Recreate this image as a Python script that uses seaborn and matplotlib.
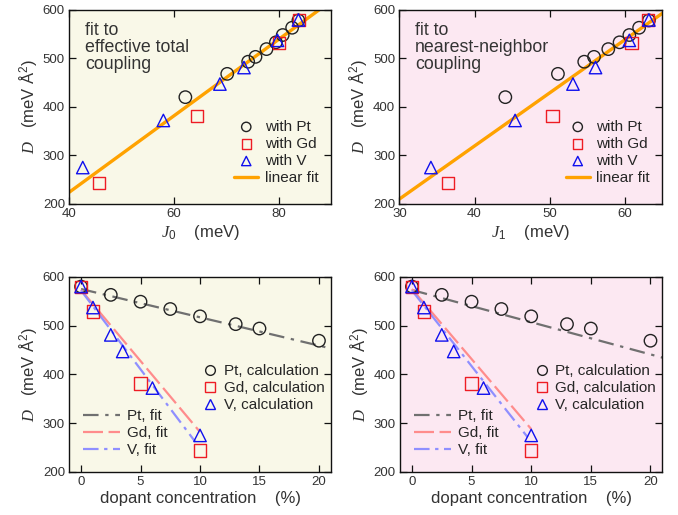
import matplotlib
matplotlib.use("Agg")
import numpy as np
import pandas as pd
import matplotlib.pyplot as plt
import seaborn as sns
from matplotlib.lines import Line2D

# ---- data ----
# top-left: D vs effective total coupling J0
j0_pt = [62.2, 70.2, 74.2, 75.6, 77.7, 79.5, 80.8, 82.6, 83.8]
d_pt = [420, 468, 493, 503, 519, 533, 548, 563, 578]
j0_gd = [45.7, 64.4, 80.1, 83.9]
d_gd = [243, 381, 531, 579]
j0_v = [42.6, 58.0, 68.8, 73.4, 79.8, 83.8]
d_v = [275, 372, 447, 481, 537, 579]
fit_j0 = (224.0, 7.87, 40.0)   # value at x0, slope, x0

# top-right: D vs nearest-neighbour coupling J1
j1_pt = [44.1, 51.1, 54.6, 55.9, 57.8, 59.3, 60.6, 61.9, 63.2]
j1_gd = [36.5, 50.4, 60.9, 63.1]
j1_v = [34.2, 45.4, 53.1, 56.1, 60.6, 63.2]
fit_j1 = (210.0, 10.94, 30.0)

# bottom: D vs dopant concentration
conc_pt = [0, 2.5, 5, 7.5, 10, 13, 15, 20]
dc_pt = [580, 563, 549, 534, 519, 503, 494, 469]
conc_gd = [0, 1, 5, 10]
dc_gd = [579, 529, 381, 244]
conc_v = [0, 1, 2.5, 3.5, 6, 10]
dc_v = [580, 537, 481, 447, 372, 275]

# fit lines: (intercept, slope, x_end)
fits_left = {"Pt": (575, -5.8, 22), "Gd": (573, -29.1, 10), "V": (572, -32.3, 9.6)}
fits_right = {"Pt": (573, -6.6, 22), "Gd": (575, -28.7, 10), "V": (572, -31.0, 9.7)}

YELLOW = "#f9f8e8"
PINK = "#fce8f2"
C_PT, C_GD, C_V = "#222222", "#ee1c24", "#1010ee"
FIT_COL = {"Pt": "#707070", "Gd": "#ff8c8c", "V": "#8f8fff"}
FIT_LS = {"Pt": (0, (7, 3, 1.5, 3)), "Gd": (0, (9, 2.5)), "V": (0, (7, 2.5, 1.5, 2.5))}

sns.set_style("ticks")
plt.rcParams["font.family"] = ["Liberation Sans", "DejaVu Sans"]
plt.rcParams["mathtext.fontset"] = "custom"
plt.rcParams["mathtext.it"] = "Liberation Serif:italic"
plt.rcParams["mathtext.rm"] = "Liberation Sans"

fig = plt.figure(figsize=(6.78, 5.15), dpi=100)
axes = [
    fig.add_axes([0.102, 0.604, 0.386, 0.377]),
    fig.add_axes([0.589, 0.604, 0.388, 0.377]),
    fig.add_axes([0.102, 0.0835, 0.386, 0.379]),
    fig.add_axes([0.590, 0.0835, 0.387, 0.379]),
]
bgs = [YELLOW, PINK, YELLOW, PINK]

mk = dict(s=80, facecolors="none", linewidth=1.0, zorder=3)
LABEL_FS = 12
LEG_FS = 11


def style_axis(ax, bg):
    ax.set_facecolor(bg)
    for sp in ax.spines.values():
        sp.set_visible(True)
        sp.set_linewidth(1.0)
        sp.set_color("#111111")
    ax.tick_params(direction="in", top=True, right=True, length=5, width=0.9,
                   labelsize=9.5, colors="#111111", labelcolor="#333333", pad=3)
    ax.set_ylim(200, 600)
    ax.set_yticks([200, 300, 400, 500, 600])
    ax.set_ylabel(r"$D$   (meV Å$^2$)", fontsize=LABEL_FS, color="#333333", labelpad=3)


def top_panel(ax, xs_pt, xs_gd, xs_v, fit, xlim, xticks, xlabel, note):
    sns.scatterplot(x=xs_pt, y=d_pt, ax=ax, marker="o", edgecolor=C_PT, label="with Pt", **mk)
    sns.scatterplot(x=xs_gd, y=d_gd, ax=ax, marker="s", edgecolor=C_GD, label="with Gd", **mk)
    sns.scatterplot(x=xs_v, y=d_v, ax=ax, marker="^", edgecolor=C_V, label="with V", **mk)
    b, m, x0 = fit
    fx = np.array([xlim[0] - 5, xlim[1] + 5])
    sns.lineplot(x=fx, y=b + m * (fx - x0), ax=ax, color="#ffa200", linewidth=2.4,
                 label="linear fit", zorder=2)
    ax.set_xlim(*xlim)
    ax.set_xticks(xticks)
    ax.set_xlabel(xlabel, fontsize=LABEL_FS, color="#333333", labelpad=2)
    ax.text(0.06, 0.935, note, transform=ax.transAxes, fontsize=12.8, va="top",
            color="#333333", linespacing=1.0)
    ax.legend(loc="center right", bbox_to_anchor=(0.975, 0.265), frameon=False, fontsize=LEG_FS,
              handlelength=1.6, handletextpad=0.4, labelspacing=0.2, borderaxespad=0.0,
              markerscale=0.75)


def bottom_panel(ax, fits):
    sns.scatterplot(x=conc_pt, y=dc_pt, ax=ax, marker="o", edgecolor=C_PT, **mk)
    sns.scatterplot(x=conc_gd, y=dc_gd, ax=ax, marker="s", edgecolor=C_GD, **mk)
    sns.scatterplot(x=conc_v, y=dc_v, ax=ax, marker="^", edgecolor=C_V, **mk)
    for key in ["Pt", "Gd", "V"]:
        b, m, xe = fits[key]
        fx = np.array([0.0, xe])
        sns.lineplot(x=fx, y=b + m * fx, ax=ax, color=FIT_COL[key], linewidth=1.6,
                     linestyle=FIT_LS[key], zorder=2)
    ax.set_xlim(-1, 21)
    ax.set_xticks([0, 5, 10, 15, 20])
    ax.set_xlabel("dopant concentration    (%)", fontsize=LABEL_FS, color="#333333", labelpad=2)

    h1 = [Line2D([], [], marker=mm, linestyle="none", markersize=7, markerfacecolor="none",
                 markeredgecolor=cc, markeredgewidth=1.0)
          for mm, cc in [("o", C_PT), ("s", C_GD), ("^", C_V)]]
    leg1 = ax.legend(h1, ["Pt, calculation", "Gd, calculation", "V, calculation"],
                     loc="center left", bbox_to_anchor=(0.49, 0.43), frameon=False,
                     fontsize=LEG_FS, handlelength=0.9, handletextpad=0.45, labelspacing=0.2,
                     borderaxespad=0.0)
    ax.add_artist(leg1)
    h2 = [Line2D([], [], color=FIT_COL[k], linestyle=FIT_LS[k], linewidth=1.6)
          for k in ["Pt", "Gd", "V"]]
    ax.legend(h2, ["Pt, fit", "Gd, fit", "V, fit"], loc="center left",
              bbox_to_anchor=(0.03, 0.2), frameon=False, fontsize=LEG_FS,
              handlelength=2.4, handletextpad=0.5, labelspacing=0.2, borderaxespad=0.0)


for ax, bg in zip(axes, bgs):
    style_axis(ax, bg)

top_panel(axes[0], j0_pt, j0_gd, j0_v, fit_j0, (40, 90), [40, 60, 80],
          r"$J_{\mathit{0}}$    (meV)", "fit to\neffective total\ncoupling")
top_panel(axes[1], j1_pt, j1_gd, j1_v, fit_j1, (30, 65), [30, 40, 50, 60],
          r"$J_{\mathit{1}}$    (meV)", "fit to\nnearest-neighbor\ncoupling")
bottom_panel(axes[2], fits_left)
bottom_panel(axes[3], fits_right)

fig.savefig("out.png", dpi=100)
